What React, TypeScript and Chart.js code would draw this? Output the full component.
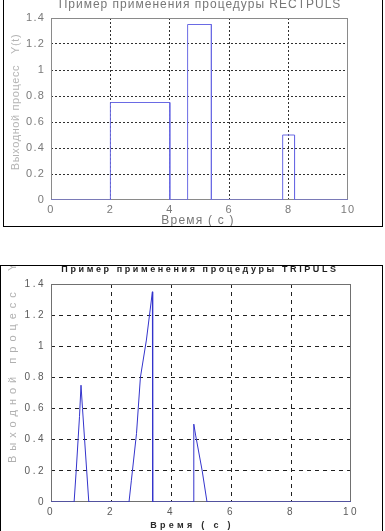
import React, { useEffect, useRef } from "react";
import { Chart, registerables } from "chart.js";

Chart.register(...registerables);

// ---- data ----
const rectTime = [0, 2, 2, 4, 4, 4.6, 4.6, 5.4, 5.4, 7.8, 7.8, 8.2, 8.2, 10];
const rectValue = [0, 0, 0.75, 0.75, 0, 0, 1.35, 1.35, 0, 0, 0.5, 0.5, 0, 0];

const triTime = [0, 0.77, 0.84, 0.95, 1.0, 1.05, 1.12, 1.26, 2.6, 2.68, 2.85, 2.98, 3.18, 3.38, 3.39, 4.74, 4.76, 4.82, 5.04, 5.2, 10];
const triValue = [0, 0, 0.2, 0.55, 0.75, 0.6, 0.4, 0, 0, 0.14, 0.44, 0.8, 1.04, 1.35, 0, 0, 0.5, 0.43, 0.2, 0, 0];

const xMin = 0;
const xMax = 10;
const xStep = 2;
const yMin = 0;
const yMax = 1.4;
const yStep = 0.2;

const titleRect = "Пример применения процедуры RECTPULS";
const titleTri = "Пример применения процедуры TRIPULS";
const yTitleRect = "Выходной процесс   Y(t)";
const yTitleTri = "Выходной процесс  Y(t)";
const xTitle = "Время ( с )";

const FONT = "'Liberation Sans', Arial, sans-serif";

type TextItem = {
  text: string;
  x: number;
  y: number;
  font: string;
  color: string;
  spacing: number;
  align: CanvasTextAlign;
  rotate?: number;
};

type Spec = {
  width: number;
  height: number;
  area: { left: number; top: number; right: number; bottom: number };
  times: number[];
  values: number[];
  lineColor: string;
  gridColor: string;
  gridDash: number[];
  frameColor: string;
  tickFont: { size: number; weight?: string };
  tickColor: string;
  tickSpacing: number;
  xTickPad: number;
  yTickPad: number;
  texts: TextItem[];
};

const fmt = (v: any) => String(Math.round(Number(v) * 10) / 10);

function buildConfig(s: Spec): any {
  const points = s.times.map((t, i) => ({ x: t, y: s.values[i] }));
  const edge = (ctx: any, lo: number, hi: number) => {
    const v = ctx.tick ? ctx.tick.value : NaN;
    return Math.abs(v - lo) < 1e-9 || Math.abs(v - hi) < 1e-9;
  };
  const spacingPlugin = {
    id: "spacing",
    beforeUpdate(chart: any) {
      chart.ctx.letterSpacing = s.tickSpacing + "px";
    },
    beforeDraw(chart: any) {
      chart.ctx.letterSpacing = s.tickSpacing + "px";
    },
  };
  const framePlugin = {
    id: "frame",
    beforeDatasetsDraw(chart: any) {
      const { ctx, chartArea: a } = chart;
      ctx.save();
      ctx.strokeStyle = s.frameColor;
      ctx.lineWidth = 1;
      ctx.setLineDash([]);
      ctx.strokeRect(a.left + 0.5, a.top + 0.5, a.right - a.left - 1, a.bottom - a.top - 1);
      ctx.restore();
    },
  };
  const textPlugin = {
    id: "figText",
    afterDraw(chart: any) {
      const ctx = chart.ctx;
      for (const t of s.texts) {
        ctx.save();
        ctx.font = t.font;
        ctx.fillStyle = t.color;
        (ctx as any).letterSpacing = t.spacing + "px";
        ctx.textAlign = t.align;
        ctx.textBaseline = "middle";
        ctx.translate(t.x, t.y);
        if (t.rotate) ctx.rotate(t.rotate);
        ctx.fillText(t.text, 0, 0);
        ctx.restore();
      }
    },
  };
  return {
    type: "line",
    data: {
      datasets: [
        {
          data: points,
          borderColor: s.lineColor,
          borderWidth: 1,
          pointRadius: 0,
          tension: 0,
          fill: false,
        },
      ],
    },
    options: {
      animation: false,
      responsive: false,
      devicePixelRatio: 1,
      events: [],
      layout: {
        padding: {
          left: 0,
          top: s.area.top,
          right: s.width - s.area.right,
          bottom: 0,
        },
      },
      plugins: {
        legend: { display: false },
        title: { display: false },
        tooltip: { enabled: false },
      },
      scales: {
        x: {
          type: "linear",
          min: xMin,
          max: xMax,
          afterFit: (scale: any) => {
            scale.height = s.height - s.area.bottom;
          },
          ticks: {
            stepSize: xStep,
            color: s.tickColor,
            font: { family: FONT, size: s.tickFont.size, weight: s.tickFont.weight || "normal" },
            padding: s.xTickPad,
            maxRotation: 0,
            callback: fmt,
          },
          grid: {
            drawTicks: false,
            lineWidth: 1,
            color: (ctx: any) => (edge(ctx, xMin, xMax) ? "rgba(0,0,0,0)" : s.gridColor),
          },
          border: { display: false, dash: s.gridDash },
        },
        y: {
          type: "linear",
          min: yMin,
          max: yMax,
          afterFit: (scale: any) => {
            scale.width = s.area.left;
          },
          ticks: {
            stepSize: yStep,
            color: s.tickColor,
            font: { family: FONT, size: s.tickFont.size, weight: s.tickFont.weight || "normal" },
            padding: s.yTickPad,
            callback: fmt,
          },
          grid: {
            drawTicks: false,
            lineWidth: 1,
            color: (ctx: any) => (edge(ctx, yMin, yMax) ? "rgba(0,0,0,0)" : s.gridColor),
          },
          border: { display: false, dash: s.gridDash },
        },
      },
    },
    plugins: [spacingPlugin, framePlugin, textPlugin],
  };
}

const topSpec: Spec = {
  width: 385,
  height: 230,
  area: { left: 51, top: 18, right: 348, bottom: 200 },
  times: rectTime,
  values: rectValue,
  lineColor: "#6a6ae4",
  gridColor: "#303030",
  gridDash: [2, 2],
  frameColor: "#8a8a8a",
  tickFont: { size: 11 },
  tickColor: "#7a7a7a",
  tickSpacing: 1.2,
  xTickPad: 3,
  yTickPad: 6,
  texts: [
    { text: titleRect, x: 200, y: 5, font: `12px ${FONT}`, color: "#777777", spacing: 1, align: "center" },
    { text: yTitleRect, x: 16, y: 102, font: `11px ${FONT}`, color: "#b4b4b4", spacing: 0.6, align: "center", rotate: -Math.PI / 2 },
    { text: xTitle, x: 198, y: 221, font: `12px ${FONT}`, color: "#777777", spacing: 1.2, align: "center" },
  ],
};

const bottomSpec: Spec = {
  width: 385,
  height: 266,
  area: { left: 51, top: 19, right: 351, bottom: 237 },
  times: triTime,
  values: triValue,
  lineColor: "#3434cc",
  gridColor: "#202020",
  gridDash: [4, 4],
  frameColor: "#707070",
  tickFont: { size: 10 },
  tickColor: "#5a5a5a",
  tickSpacing: 2.5,
  xTickPad: 4,
  yTickPad: 5,
  texts: [
    { text: titleTri, x: 200, y: 5, font: `bold 9px ${FONT}`, color: "#1e1e1e", spacing: 2.6, align: "center" },
    { text: yTitleTri, x: 13, y: 198, font: `11px ${FONT}`, color: "#b0b0b0", spacing: 5, align: "left", rotate: -Math.PI / 2 },
    { text: xTitle, x: 192, y: 261, font: `bold 9px ${FONT}`, color: "#2a2a2a", spacing: 3.3, align: "center" },
  ],
};

function PulseChart({ spec }: { spec: Spec }) {
  const ref = useRef<HTMLCanvasElement | null>(null);
  useEffect(() => {
    if (!ref.current) return;
    const chart = new Chart(ref.current, buildConfig(spec));
    return () => chart.destroy();
  }, [spec]);
  return <canvas ref={ref} width={spec.width} height={spec.height} style={{ display: "block", width: spec.width, height: spec.height }} />;
}

export default function App() {
  return (
    <div style={{ position: "absolute", left: 0, top: 0, width: 385, height: 531, overflow: "hidden", background: "#ffffff" }}>
      <div style={{ position: "absolute", left: 0, top: 0 }}>
        <PulseChart spec={topSpec} />
      </div>
      <div style={{ position: "absolute", left: 0, top: 265 }}>
        <PulseChart spec={bottomSpec} />
      </div>
      <div style={{ position: "absolute", left: 3, top: -2, width: 380, height: 229, border: "1px solid #000", boxSizing: "border-box", pointerEvents: "none" }} />
      <div style={{ position: "absolute", left: 0, top: 265, width: 383, height: 280, border: "1px solid #000", boxSizing: "border-box", pointerEvents: "none" }} />
    </div>
  );
}
